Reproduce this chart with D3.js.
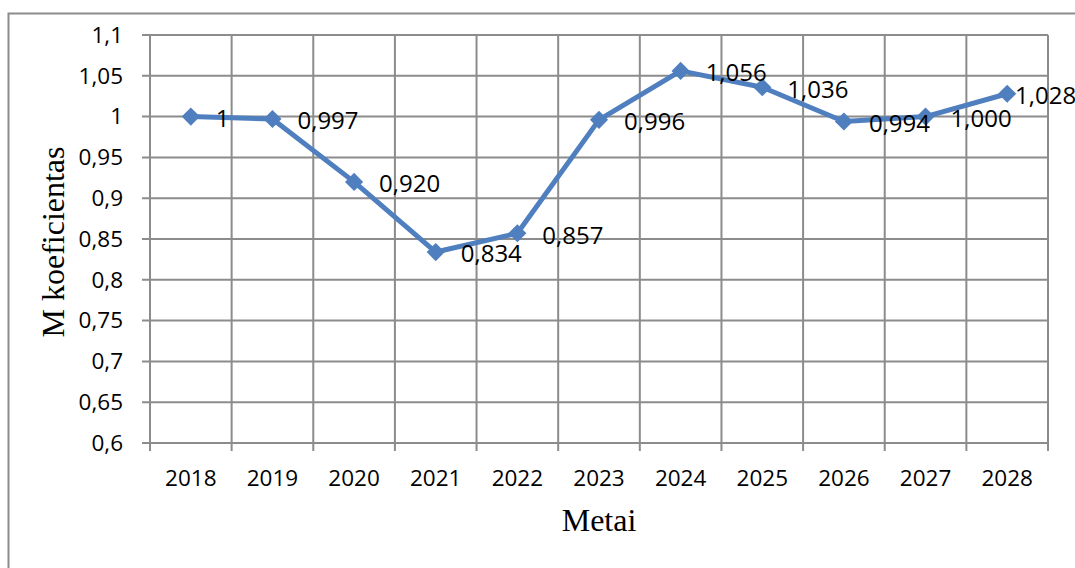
<!DOCTYPE html>
<html>
<head>
<meta charset="utf-8">
<script src="https://cdn.jsdelivr.net/npm/d3@7"></script>
<style>
  body { margin: 0; background: #fff; }
  svg { display: block; }
</style>
</head>
<body>
<div id="chart"></div>
<script>
  // ── Duomenys ──────────────────────────────────────────
  const years = ["2018", "2019", "2020", "2021", "2022", "2023", "2024", "2025", "2026", "2027", "2028"];
  const values = [1, 0.997, 0.92, 0.834, 0.857, 0.996, 1.056, 1.036, 0.994, 1.0, 1.028];
  const labels = ["1", "0,997", "0,920", "0,834", "0,857", "0,996", "1,056", "1,036", "0,994", "1,000", "1,028"];
  const yTicks = [0.6, 0.65, 0.7, 0.75, 0.8, 0.85, 0.9, 0.95, 1, 1.05, 1.1];

  const fmt = (v) => String(+v.toFixed(2)).replace(".", ",");

  // ── Nustatymai ────────────────────────────────────────
  const width = 1075;
  const height = 568;
  const plot = { left: 150, right: 1048, top: 35, bottom: 443 };
  const GRID = "#8c8c8c";
  const LINE = "#4f7fbe";
  const TICK_FONT = "'Open Sans', 'Noto Sans', sans-serif";
  const TITLE_FONT = "'Liberation Serif', 'DejaVu Serif', serif";

  const svg = d3.select("#chart").append("svg").attr("width", width).attr("height", height);

  // Rėmelis
  svg.append("path")
    .attr("d", `M8.5,${height} V13.5 H${width}`)
    .attr("fill", "none").attr("stroke", GRID).attr("stroke-width", 2);

  const x = d3.scaleBand().domain(years).range([plot.left, plot.right]);
  const y = d3.scaleLinear().domain([0.6, 1.1]).range([plot.bottom, plot.top]);

  // Horizontalios linijos
  svg.append("g")
    .selectAll("line")
    .data(yTicks)
    .join("line")
    .attr("x1", plot.left - 8).attr("x2", plot.right)
    .attr("y1", (d) => y(d)).attr("y2", (d) => y(d))
    .attr("stroke", GRID).attr("stroke-width", 2);

  // Vertikalios linijos (kategorijų ribos)
  const bounds = years.map((d) => x(d)).concat([plot.right]);
  svg.append("g")
    .selectAll("line")
    .data(bounds)
    .join("line")
    .attr("x1", (d) => d).attr("x2", (d) => d)
    .attr("y1", plot.top).attr("y2", plot.bottom + 8)
    .attr("stroke", GRID).attr("stroke-width", 2);

  // Y ašies žymės
  svg.append("g")
    .selectAll("text")
    .data(yTicks)
    .join("text")
    .attr("x", plot.left - 27)
    .attr("y", (d) => y(d))
    .attr("dy", "0.35em")
    .attr("text-anchor", "end")
    .attr("font-family", TICK_FONT)
    .attr("font-size", 22.5)
    .attr("fill", "#000")
    .text((d) => fmt(d));

  // X ašies žymės
  svg.append("g")
    .selectAll("text")
    .data(years)
    .join("text")
    .attr("x", (d) => x(d) + x.bandwidth() / 2)
    .attr("y", 478)
    .attr("dy", "0.35em")
    .attr("text-anchor", "middle")
    .attr("font-family", TICK_FONT)
    .attr("font-size", 22.5)
    .attr("fill", "#000")
    .text((d) => d);

  // Linija
  const cx = (i) => x(years[i]) + x.bandwidth() / 2;
  const line = d3.line().x((d, i) => cx(i)).y((d) => y(d));

  svg.append("path")
    .attr("d", line(values))
    .attr("fill", "none")
    .attr("stroke", LINE)
    .attr("stroke-width", 5)
    .attr("stroke-linejoin", "round");

  // Rombai
  const diamond = d3.symbol().type(d3.symbolDiamond2).size(210);
  svg.append("g")
    .selectAll("path")
    .data(values)
    .join("path")
    .attr("d", diamond)
    .attr("transform", (d, i) => `translate(${cx(i)},${y(d)})`)
    .attr("fill", LINE);

  // Reikšmių etiketės
  svg.append("g")
    .selectAll("text")
    .data(values)
    .join("text")
    .attr("x", (d, i) => Math.min(cx(i) + 25, width - 60))
    .attr("y", (d) => y(d) + 2)
    .attr("dy", "0.35em")
    .attr("font-family", TICK_FONT)
    .attr("font-size", 24)
    .attr("fill", "#000")
    .text((d, i) => labels[i]);

  // Ašių pavadinimai
  svg.append("text")
    .attr("transform", `translate(64,${(plot.top + plot.bottom) / 2 + 3}) rotate(-90)`)
    .attr("text-anchor", "middle")
    .attr("font-family", TITLE_FONT)
    .attr("font-size", 32)
    .attr("fill", "#000")
    .text("M koeficientas");

  svg.append("text")
    .attr("x", (plot.left + plot.right) / 2)
    .attr("y", 531)
    .attr("text-anchor", "middle")
    .attr("font-family", TITLE_FONT)
    .attr("font-size", 32)
    .attr("fill", "#000")
    .text("Metai");
</script>
</body>
</html>
